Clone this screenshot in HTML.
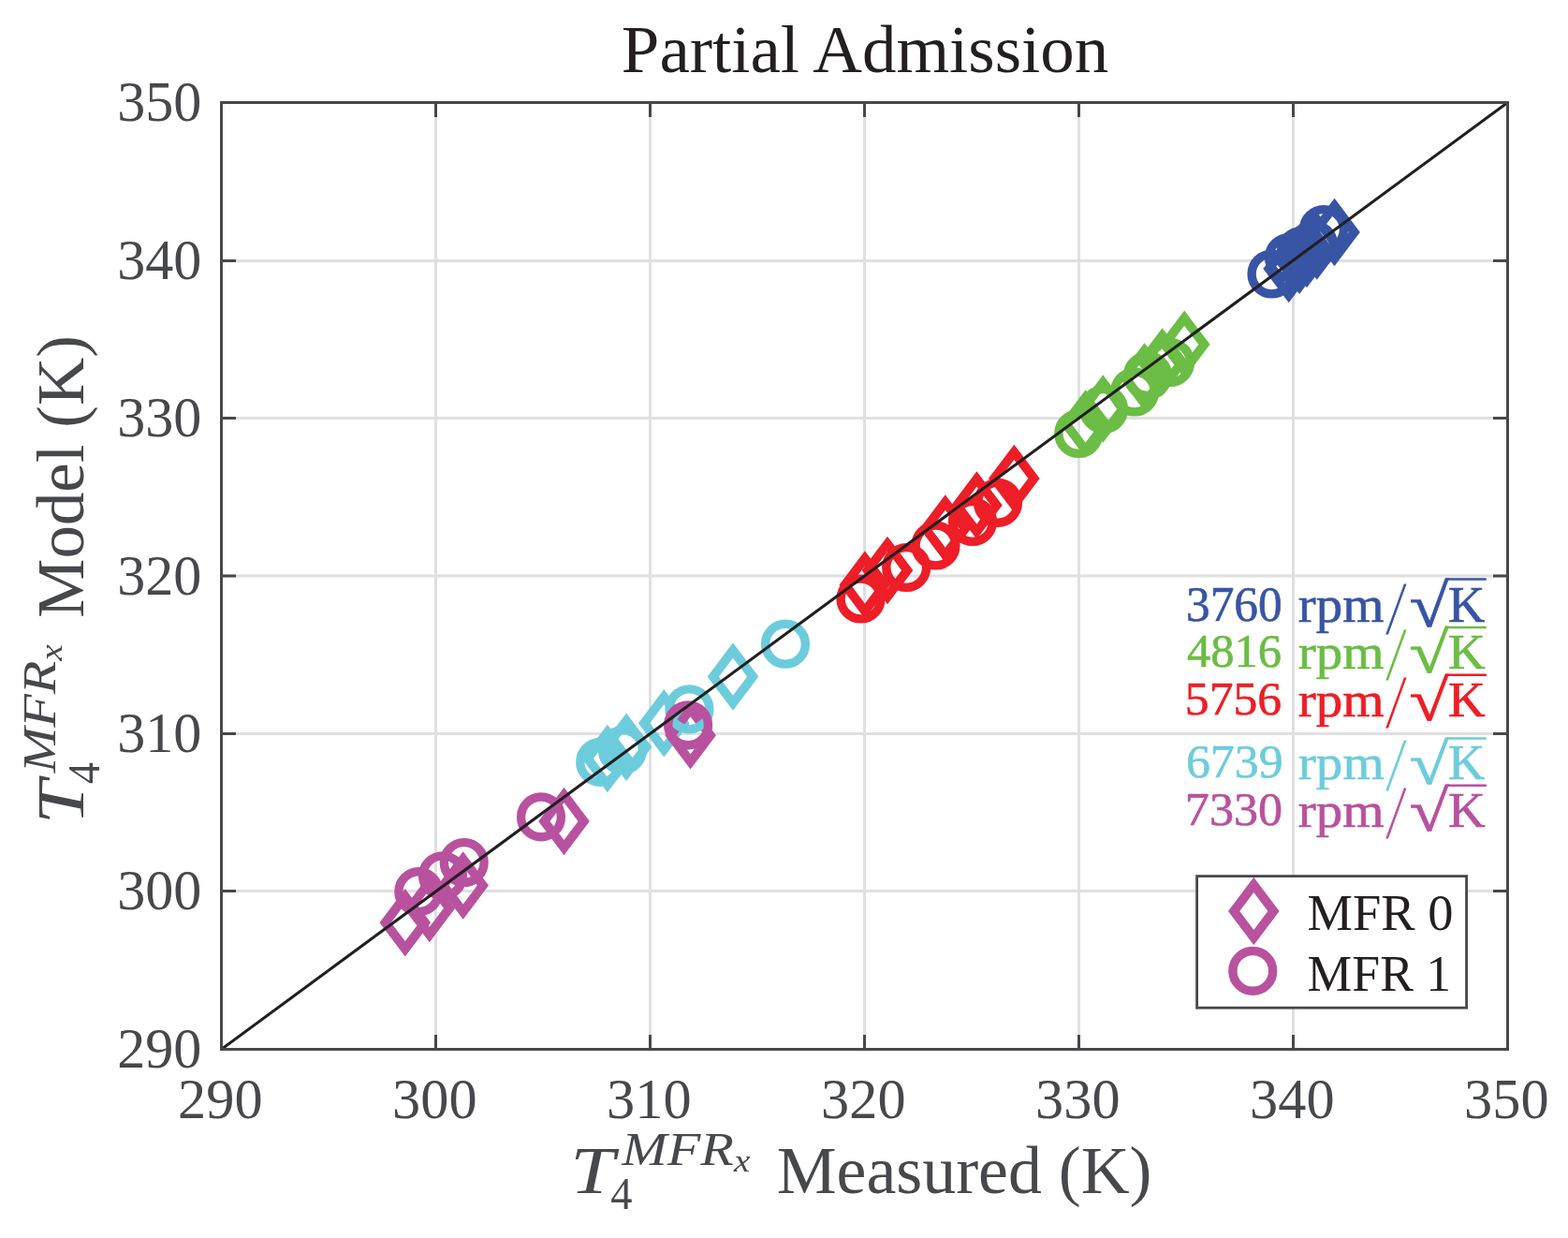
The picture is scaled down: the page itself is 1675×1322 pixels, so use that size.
<!DOCTYPE html>
<html><head><meta charset="utf-8"><title>Partial Admission</title>
<style>html,body{margin:0;padding:0;background:#fff;overflow:hidden;}svg{display:block;}</style>
</head><body>
<svg width="1675" height="1322" viewBox="0 0 1675 1322" font-family="'Liberation Serif', serif">
<rect width="1675" height="1322" fill="#fff"/>
<path d="M465.50 109.5V1120.5M236.5 951.50H1610.5M694.50 109.5V1120.5M236.5 783.50H1610.5M923.50 109.5V1120.5M236.5 615.00H1610.5M1152.50 109.5V1120.5M236.5 446.50H1610.5M1381.50 109.5V1120.5M236.5 278.50H1610.5" stroke="#dfe0e2" stroke-width="3" fill="none"/>
<g><path d="M1376.7 258.8L1397.9 286.9L1376.7 315.0L1355.5 286.9Z" fill="none" stroke="#3855a5" stroke-width="9.8"/>
<path d="M1388.1 249.7L1409.3 277.8L1388.1 305.9L1366.9 277.8Z" fill="none" stroke="#3855a5" stroke-width="9.8"/>
<path d="M1396.0 242.9L1417.2 271.0L1396.0 299.1L1374.8 271.0Z" fill="none" stroke="#3855a5" stroke-width="9.8"/>
<path d="M1406.8 234.4L1428.0 262.5L1406.8 290.6L1385.6 262.5Z" fill="none" stroke="#3855a5" stroke-width="9.8"/>
<path d="M1425.5 219.8L1446.7 247.9L1425.5 276.0L1404.3 247.9Z" fill="none" stroke="#3855a5" stroke-width="9.8"/>
<path d="M1159.6 424.4L1180.8 452.5L1159.6 480.6L1138.4 452.5Z" fill="none" stroke="#6bbd45" stroke-width="9.8"/>
<path d="M1178.3 408.4L1199.5 436.5L1178.3 464.6L1157.1 436.5Z" fill="none" stroke="#6bbd45" stroke-width="9.8"/>
<path d="M1222.5 374.3L1243.7 402.4L1222.5 430.5L1201.3 402.4Z" fill="none" stroke="#6bbd45" stroke-width="9.8"/>
<path d="M1241.6 358.3L1262.8 386.4L1241.6 414.5L1220.4 386.4Z" fill="none" stroke="#6bbd45" stroke-width="9.8"/>
<path d="M1265.2 339.7L1286.4 367.8L1265.2 395.9L1244.0 367.8Z" fill="none" stroke="#6bbd45" stroke-width="9.8"/>
<path d="M923.9 596.4L945.1 624.5L923.9 652.6L902.7 624.5Z" fill="none" stroke="#ed1e27" stroke-width="9.8"/>
<path d="M948.0 580.9L969.2 609.0L948.0 637.1L926.8 609.0Z" fill="none" stroke="#ed1e27" stroke-width="9.8"/>
<path d="M1009.8 536.5L1031.0 564.6L1009.8 592.7L988.6 564.6Z" fill="none" stroke="#ed1e27" stroke-width="9.8"/>
<path d="M1043.4 511.5L1064.6 539.6L1043.4 567.7L1022.2 539.6Z" fill="none" stroke="#ed1e27" stroke-width="9.8"/>
<path d="M1083.3 482.8L1104.5 510.9L1083.3 539.0L1062.1 510.9Z" fill="none" stroke="#ed1e27" stroke-width="9.8"/>
<path d="M648.9 781.9L670.1 810.0L648.9 838.1L627.7 810.0Z" fill="none" stroke="#6dccdc" stroke-width="9.8"/>
<path d="M669.1 769.7L690.3 797.8L669.1 825.9L647.9 797.8Z" fill="none" stroke="#6dccdc" stroke-width="9.8"/>
<path d="M709.3 744.1L730.5 772.2L709.3 800.3L688.1 772.2Z" fill="none" stroke="#6dccdc" stroke-width="9.8"/>
<path d="M783.0 694.5L804.2 722.6L783.0 750.7L761.8 722.6Z" fill="none" stroke="#6dccdc" stroke-width="9.8"/>
<path d="M432.8 957.1L454.0 985.2L432.8 1013.3L411.6 985.2Z" fill="none" stroke="#b8529e" stroke-width="9.8"/>
<path d="M458.8 941.8L480.0 969.9L458.8 998.0L437.6 969.9Z" fill="none" stroke="#b8529e" stroke-width="9.8"/>
<path d="M494.7 917.4L515.9 945.5L494.7 973.6L473.5 945.5Z" fill="none" stroke="#b8529e" stroke-width="9.8"/>
<path d="M602.5 848.9L623.7 877.0L602.5 905.1L581.3 877.0Z" fill="none" stroke="#b8529e" stroke-width="9.8"/>
<path d="M737.6 757.2L758.8 785.3L737.6 813.4L716.4 785.3Z" fill="none" stroke="#b8529e" stroke-width="9.8"/>
<circle cx="1358.5" cy="292.5" r="21.4" fill="none" stroke="#3855a5" stroke-width="9.4"/>
<circle cx="1377.0" cy="275.0" r="21.4" fill="none" stroke="#3855a5" stroke-width="9.4"/>
<circle cx="1390.0" cy="268.0" r="21.4" fill="none" stroke="#3855a5" stroke-width="9.4"/>
<circle cx="1403.0" cy="261.0" r="21.4" fill="none" stroke="#3855a5" stroke-width="9.4"/>
<circle cx="1414.0" cy="245.0" r="21.4" fill="none" stroke="#3855a5" stroke-width="9.4"/>
<circle cx="1152.3" cy="463.0" r="21.4" fill="none" stroke="#6bbd45" stroke-width="9.4"/>
<circle cx="1179.0" cy="437.0" r="21.4" fill="none" stroke="#6bbd45" stroke-width="9.4"/>
<circle cx="1212.0" cy="418.5" r="21.4" fill="none" stroke="#6bbd45" stroke-width="9.4"/>
<circle cx="1226.0" cy="401.0" r="21.4" fill="none" stroke="#6bbd45" stroke-width="9.4"/>
<circle cx="1250.0" cy="387.0" r="21.4" fill="none" stroke="#6bbd45" stroke-width="9.4"/>
<circle cx="919.5" cy="639.5" r="21.4" fill="none" stroke="#ed1e27" stroke-width="9.4"/>
<circle cx="968.2" cy="606.0" r="21.4" fill="none" stroke="#ed1e27" stroke-width="9.4"/>
<circle cx="999.5" cy="582.5" r="21.4" fill="none" stroke="#ed1e27" stroke-width="9.4"/>
<circle cx="1039.0" cy="557.0" r="21.4" fill="none" stroke="#ed1e27" stroke-width="9.4"/>
<circle cx="1066.0" cy="536.8" r="21.4" fill="none" stroke="#ed1e27" stroke-width="9.4"/>
<circle cx="641.2" cy="813.8" r="21.4" fill="none" stroke="#6dccdc" stroke-width="9.4"/>
<circle cx="665.0" cy="801.0" r="21.4" fill="none" stroke="#6dccdc" stroke-width="9.4"/>
<circle cx="736.4" cy="757.3" r="21.4" fill="none" stroke="#6dccdc" stroke-width="9.4"/>
<circle cx="839.0" cy="687.7" r="21.4" fill="none" stroke="#6dccdc" stroke-width="9.4"/>
<circle cx="447.3" cy="952.2" r="21.4" fill="none" stroke="#b8529e" stroke-width="9.4"/>
<circle cx="473.0" cy="935.3" r="21.4" fill="none" stroke="#b8529e" stroke-width="9.4"/>
<circle cx="495.7" cy="921.0" r="21.4" fill="none" stroke="#b8529e" stroke-width="9.4"/>
<circle cx="578.0" cy="872.4" r="21.4" fill="none" stroke="#b8529e" stroke-width="9.4"/>
<circle cx="735.1" cy="774.3" r="21.4" fill="none" stroke="#b8529e" stroke-width="9.4"/></g>
<line x1="236.5" y1="1120.5" x2="1610.5" y2="109.5" stroke="#231f20" stroke-width="3.1"/>
<path d="M465.50 1120.5V1105.0M465.50 109.5V125.0M236.5 951.50H252.0M1610.5 951.50H1595.0M694.50 1120.5V1105.0M694.50 109.5V125.0M236.5 783.50H252.0M1610.5 783.50H1595.0M923.50 1120.5V1105.0M923.50 109.5V125.0M236.5 615.00H252.0M1610.5 615.00H1595.0M1152.50 1120.5V1105.0M1152.50 109.5V125.0M236.5 446.50H252.0M1610.5 446.50H1595.0M1381.50 1120.5V1105.0M1381.50 109.5V125.0M236.5 278.50H252.0M1610.5 278.50H1595.0M236.5 109.5H1610.5V1120.5H236.5Z" stroke="#46484b" stroke-width="3" fill="none"/>
<text transform="translate(1266.97 663.40) scale(0.9641 1.0000)" font-size="53.29" fill="#3855a5" stroke="#3855a5" stroke-width="0.6">3760</text>
<text transform="translate(1386.86 664.40) scale(1.0379 1.0000)" font-size="54.82" fill="#3855a5" stroke="#3855a5" stroke-width="0.6">rpm</text>
<text transform="translate(1488.03 676.60) scale(0.7704 1.5029)" font-size="53.00" fill="#3855a5" stroke="#3855a5" stroke-width="0.7">⁄</text>
<text transform="translate(1505.45 668.67) scale(1.4464 1.2256)" font-size="53.00" fill="#3855a5" stroke="#3855a5" stroke-width="0.6">√</text>
<text transform="translate(1547.11 664.40) scale(0.9947 1.0000)" font-size="54.82" fill="#3855a5" stroke="#3855a5" stroke-width="0.6">K</text>
<line x1="1545.8" y1="618.45" x2="1587.8" y2="618.45" stroke="#3855a5" stroke-width="2.5"/>
<text transform="translate(1267.91 712.20) scale(0.9930 1.0000)" font-size="50.94" fill="#6bbd45" stroke="#6bbd45" stroke-width="0.6">4816</text>
<text transform="translate(1386.81 714.20) scale(1.0880 1.0000)" font-size="52.39" fill="#6bbd45" stroke="#6bbd45" stroke-width="0.6">rpm</text>
<text transform="translate(1488.03 725.80) scale(0.7704 1.5029)" font-size="53.00" fill="#6bbd45" stroke="#6bbd45" stroke-width="0.7">⁄</text>
<text transform="translate(1505.45 717.93) scale(1.4464 1.1721)" font-size="53.00" fill="#6bbd45" stroke="#6bbd45" stroke-width="0.6">√</text>
<text transform="translate(1547.05 714.20) scale(1.0500 1.0000)" font-size="52.39" fill="#6bbd45" stroke="#6bbd45" stroke-width="0.6">K</text>
<line x1="1545.8" y1="669.95" x2="1587.8" y2="669.95" stroke="#6bbd45" stroke-width="2.5"/>
<text transform="translate(1265.86 763.00) scale(1.0133 1.0000)" font-size="50.94" fill="#ed1e27" stroke="#ed1e27" stroke-width="0.6">5756</text>
<text transform="translate(1386.81 765.00) scale(1.0880 1.0000)" font-size="52.39" fill="#ed1e27" stroke="#ed1e27" stroke-width="0.6">rpm</text>
<text transform="translate(1488.03 776.60) scale(0.7704 1.5029)" font-size="53.00" fill="#ed1e27" stroke="#ed1e27" stroke-width="0.7">⁄</text>
<text transform="translate(1505.45 768.73) scale(1.4464 1.1744)" font-size="53.00" fill="#ed1e27" stroke="#ed1e27" stroke-width="0.6">√</text>
<text transform="translate(1547.05 765.00) scale(1.0500 1.0000)" font-size="52.39" fill="#ed1e27" stroke="#ed1e27" stroke-width="0.6">K</text>
<line x1="1545.8" y1="720.65" x2="1587.8" y2="720.65" stroke="#ed1e27" stroke-width="2.5"/>
<text transform="translate(1266.89 830.30) scale(1.0030 1.0000)" font-size="51.68" fill="#6dccdc" stroke="#6dccdc" stroke-width="0.6">6739</text>
<text transform="translate(1386.83 832.30) scale(1.0750 1.0000)" font-size="53.15" fill="#6dccdc" stroke="#6dccdc" stroke-width="0.6">rpm</text>
<text transform="translate(1488.03 844.40) scale(0.7704 1.5029)" font-size="53.00" fill="#6dccdc" stroke="#6dccdc" stroke-width="0.7">⁄</text>
<text transform="translate(1505.45 836.53) scale(1.4464 1.1721)" font-size="53.00" fill="#6dccdc" stroke="#6dccdc" stroke-width="0.6">√</text>
<text transform="translate(1547.08 832.30) scale(1.0216 1.0000)" font-size="53.15" fill="#6dccdc" stroke="#6dccdc" stroke-width="0.6">K</text>
<line x1="1545.8" y1="788.55" x2="1587.8" y2="788.55" stroke="#6dccdc" stroke-width="2.5"/>
<text transform="translate(1265.83 881.00) scale(1.0237 1.0000)" font-size="50.94" fill="#b8529e" stroke="#b8529e" stroke-width="0.6">7330</text>
<text transform="translate(1386.81 883.00) scale(1.0880 1.0000)" font-size="52.39" fill="#b8529e" stroke="#b8529e" stroke-width="0.6">rpm</text>
<text transform="translate(1488.03 894.60) scale(0.7704 1.5029)" font-size="53.00" fill="#b8529e" stroke="#b8529e" stroke-width="0.7">⁄</text>
<text transform="translate(1505.45 886.73) scale(1.4464 1.1721)" font-size="53.00" fill="#b8529e" stroke="#b8529e" stroke-width="0.6">√</text>
<text transform="translate(1547.05 883.00) scale(1.0500 1.0000)" font-size="52.39" fill="#b8529e" stroke="#b8529e" stroke-width="0.6">K</text>
<line x1="1545.8" y1="838.75" x2="1587.8" y2="838.75" stroke="#b8529e" stroke-width="2.5"/>
<rect x="1278.6" y="935.6" width="288" height="140.6" fill="#fff" stroke="#46484b" stroke-width="2.8"/>
<path d="M1339.3 944.9L1360.5 973.0L1339.3 1001.1L1318.1 973.0Z" fill="none" stroke="#b8529e" stroke-width="9.8"/>
<circle cx="1338.3" cy="1036.9" r="21.4" fill="none" stroke="#b8529e" stroke-width="9.4"/>
<text transform="translate(1396.60 993.20) scale(1.0039 1.0000)" font-size="54.30" fill="#231f20">MFR 0</text>
<text transform="translate(1396.61 1058.20) scale(0.9881 1.0000)" font-size="54.30" fill="#231f20">MFR 1</text>
<text transform="translate(125.15 1140.15) scale(0.9849 1.0000)" font-size="61.05" fill="#46484b">290</text>
<text transform="translate(125.15 971.15) scale(0.9849 1.0000)" font-size="61.05" fill="#46484b">300</text>
<text transform="translate(125.15 803.15) scale(0.9849 1.0000)" font-size="61.05" fill="#46484b">310</text>
<text transform="translate(125.15 634.65) scale(0.9849 1.0000)" font-size="61.05" fill="#46484b">320</text>
<text transform="translate(125.15 466.15) scale(0.9849 1.0000)" font-size="61.05" fill="#46484b">330</text>
<text transform="translate(125.15 298.15) scale(0.9849 1.0000)" font-size="61.05" fill="#46484b">340</text>
<text transform="translate(125.15 129.15) scale(0.9849 1.0000)" font-size="61.05" fill="#46484b">350</text>
<text transform="translate(190.12 1193.90) scale(0.9782 1.0000)" font-size="61.65" fill="#46484b">290</text>
<text transform="translate(419.12 1193.90) scale(0.9782 1.0000)" font-size="61.65" fill="#46484b">300</text>
<text transform="translate(648.12 1193.90) scale(0.9782 1.0000)" font-size="61.65" fill="#46484b">310</text>
<text transform="translate(877.12 1193.90) scale(0.9782 1.0000)" font-size="61.65" fill="#46484b">320</text>
<text transform="translate(1106.12 1193.90) scale(0.9782 1.0000)" font-size="61.65" fill="#46484b">330</text>
<text transform="translate(1335.12 1193.90) scale(0.9782 1.0000)" font-size="61.65" fill="#46484b">340</text>
<text transform="translate(1564.12 1193.90) scale(0.9782 1.0000)" font-size="61.65" fill="#46484b">350</text>
<text transform="translate(663.84 76.85) scale(1.0280 1.0000)" font-size="70.92" fill="#231f20">Partial Admission</text>
<g><text transform="translate(609.36 1274.10) scale(1.1872 1.0000)" font-size="71.30" font-style="italic" fill="#46484b">T</text><text transform="translate(652.15 1291.00) scale(0.9522 1.0000)" font-size="48.69" fill="#46484b">4</text><text transform="translate(664.25 1244.00) scale(1.1529 1.0000)" font-size="50.53" font-style="italic" fill="#46484b">MFR</text><text transform="translate(784.00 1250.90) scale(1.1400 1.0000)" font-size="34.31" font-style="italic" fill="#46484b">x</text><text transform="translate(829.77 1274.00) scale(1.0133 1.0000)" font-size="70.85" fill="#46484b">Measured (K)</text></g>
<g transform="translate(-1184.7 1489.5) rotate(-90)"><text transform="translate(609.36 1274.10) scale(1.1872 1.0000)" font-size="71.30" font-style="italic" fill="#46484b">T</text><text transform="translate(652.15 1291.00) scale(0.9522 1.0000)" font-size="48.69" fill="#46484b">4</text><text transform="translate(664.25 1244.00) scale(1.1529 1.0000)" font-size="50.53" font-style="italic" fill="#46484b">MFR</text><text transform="translate(784.00 1250.90) scale(1.1400 1.0000)" font-size="34.31" font-style="italic" fill="#46484b">x</text><text transform="translate(829.80 1274.00) scale(1.0017 1.0000)" font-size="70.85" fill="#46484b">Model (K)</text></g>
</svg>
</body></html>
